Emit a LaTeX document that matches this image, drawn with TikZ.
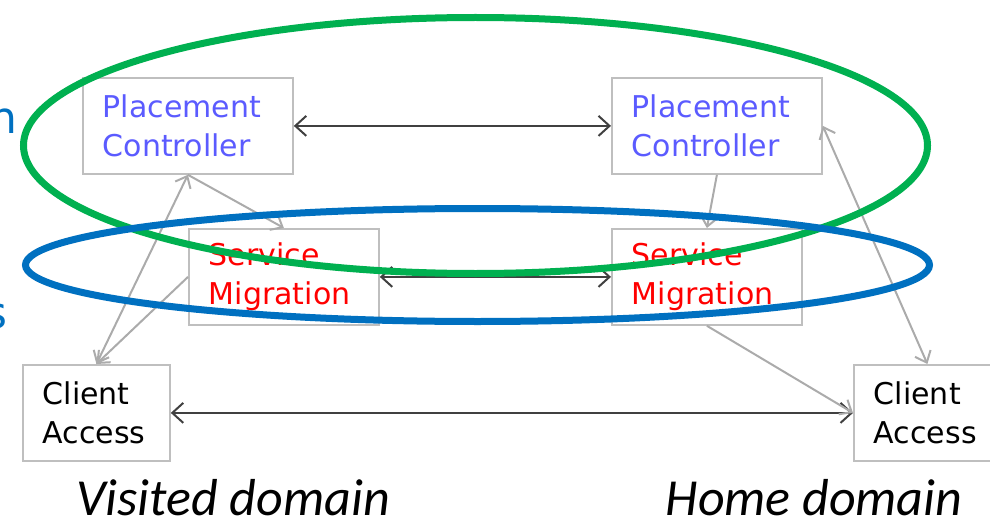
\documentclass[tikz,border=0pt]{standalone}
\usepackage{fontspec}
\setmainfont{DejaVu Sans}
\newfontfamily\domainfont{Carlito}
\usetikzlibrary{arrows.meta}

\definecolor{boxgray}{HTML}{BFBFBF}
\definecolor{linkgray}{HTML}{ABABAB}
\definecolor{peergray}{HTML}{404040}
\definecolor{ctrlblue}{HTML}{5B5BFF}
\definecolor{ringgreen}{HTML}{00B050}
\definecolor{ringblue}{HTML}{0070C0}

\tikzset{
    box/.style={draw=boxgray, line width=1.8pt, anchor=north west, inner xsep=20pt, inner ysep=0pt,
        minimum height=96pt, align=left, font=\fontsize{30}{39}\selectfont},
    peer/.style={peergray, line width=2pt,
        {Straight Barb[length=11pt,width=20pt]}-{Straight Barb[length=11pt,width=20pt]}},
    link/.style={linkgray, line width=2pt, -{Straight Barb[length=10pt,width=17pt]}},
    bilink/.style={linkgray, line width=2pt,
        {Straight Barb[length=10pt,width=17pt]}-{Straight Barb[length=10pt,width=17pt]}},
    ring/.style={line width=7pt},
}

\begin{document}
\begin{tikzpicture}[x=1pt, y=-1pt]
        \useasboundingbox (0,0) rectangle (990,524);
        \clip (0,0) rectangle (990,524);

        % cut-off words at the left edge
        \node[ringblue, font=\fontsize{44}{44}\selectfont, inner sep=0pt, anchor=base east] (cutn) at (18,133) {n};
        \node[ringblue, font=\fontsize{44}{44}\selectfont, inner sep=0pt, anchor=base east] (cuts) at (8,328) {s};

        % visited domain
        \node[box, text width=170pt, text=ctrlblue] (pcL) at (82,77) {Placement\\Controller};
        \node[box, text width=150pt, text=red] (smL) at (188,228) {Service\\Migration};
        \node[box, text width=107pt] (caL) at (22,364) {Client\\Access};

        % home domain
        \node[box, text width=170pt, text=ctrlblue] (pcR) at (611,77) {Placement\\Controller};
        \node[box, text width=150pt, text=red] (smR) at (611,228) {Service\\Migration};
        \node[box, text width=107pt] (caR) at (853,364) {Client\\Access};

        \node[font=\domainfont\itshape\fontsize{52}{52}\selectfont, inner sep=0pt, anchor=base] (vis) at (233,515) {Visited domain};
        \node[font=\domainfont\itshape\fontsize{52}{52}\selectfont, inner sep=0pt, anchor=base] (home) at (814,515) {Home domain};

        \draw[peer] (pcL) -- (pcR);
        \draw[peer] (smL) -- (smR);
        \draw[peer] (caL) -- (caR);

        \draw[bilink] (caL.north) -- (pcL.south);
        \draw[link] (pcL.south) -- (smL.north);
        \draw[link] (smL.west) -- (caL.north);
        \draw[link] (pcR.south) -- (smR.north);
        \draw[bilink] (caR.north) -- (pcR.east);
        \draw[link] (smR.south) -- (caR.west);

        \draw[ring, ringgreen] (475.5,145.5) ellipse [x radius=452pt, y radius=128pt];
        \draw[ring, ringblue] (477.5,265) ellipse [x radius=452pt, y radius=56.5pt];
    \end{tikzpicture}
\end{document}
